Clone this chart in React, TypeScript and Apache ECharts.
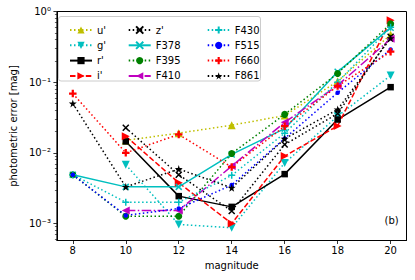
import React, { useEffect, useRef } from "react";
import * as echarts from "echarts";

const magnitudes = [8, 10, 12, 14, 16, 18, 20];

const uBand = [null, 0.015, 0.019, 0.0246, 0.0337, 0.103, 0.47];
const gBand = [null, 0.0068, 0.00097, 0.00087, 0.0072, 0.033, 0.124];
const rBand = [null, 0.0145, 0.00244, 0.00172, 0.005, 0.0296, 0.085];
const iBand = [null, 0.0172, 0.00377, 0.001, 0.009, 0.024, 0.75];
const zBand = [null, 0.0226, 0.0049, 0.0015, 0.0131, 0.036, 0.44];
const f378 = [0.0049, 0.0033, 0.0033, 0.0095, 0.022, 0.14, 0.59];
const f395 = [0.0049, 0.00127, 0.00127, 0.0098, 0.035, 0.133, 0.67];
const f410 = [null, 0.00153, 0.00153, 0.0065, 0.027, 0.09, 0.41];
const f430 = [0.0049, 0.002, 0.002, 0.0048, 0.019, 0.1, 0.6];
const f515 = [0.0049, 0.0013, 0.00163, 0.0035, 0.016, 0.071, 0.29];
const f660 = [0.069, 0.01, 0.0182, 0.0063, 0.0238, 0.088, 0.27];
const f861 = [0.05, 0.0033, 0.0059, 0.0032, 0.0158, 0.041, 0.42];

const xTicks = [8, 10, 12, 14, 16, 18, 20];
const yTicks = [0.001, 0.01, 0.1, 1];

const legendCol1 = ["u'", "g'", "r'", "i'"];
const legendCol2 = ["z'", "F378", "F395", "F410"];
const legendCol3 = ["F430", "F515", "F660", "F861"];

const FONT = "DejaVu Sans";
const X_PATH = "path://M0,0L10,10M10,0L0,10";
const PLUS_PATH = "path://M5,0L5,10M0,5L10,5";
const PFILL_PATH = "path://M3.5,0H6.5V3.5H10V6.5H6.5V10H3.5V6.5H0V3.5H3.5Z";
const STAR_PATH =
  "path://M5,0L6.117,3.463L9.755,3.455L6.807,5.587L7.939,9.045L5,6.9L2.061,9.045L3.193,5.587L0.245,3.455L3.883,3.463Z";

const DOT = [1.5, 2.5];
const DASH = [5.5, 2.4];
const DASHDOT = [9.6, 2.4, 1.5, 2.4];

const supMap: Record<string, string> = { "0": "⁰", "1": "¹", "2": "²", "3": "³", "-": "⁻" };

function mk(
  name: string,
  vals: (number | null)[],
  color: string,
  lineType: any,
  symbol: string,
  size: number,
  rotate = 0,
  stroked = false
) {
  return {
    name,
    type: "line",
    data: magnitudes.map((m, i) => [m, vals[i]]).filter((d) => d[1] !== null),
    symbol,
    symbolSize: size,
    symbolRotate: rotate,
    showAllSymbol: true,
    lineStyle: { color, width: 1.5, type: lineType, cap: "butt" },
    itemStyle: {
      color: stroked ? "rgba(0,0,0,0)" : color,
      borderColor: color,
      borderWidth: stroked ? 1.5 : 0,
    },
    emphasis: { disabled: true },
    z: 2,
  };
}

function minorValues() {
  const out: number[] = [];
  for (let d = -4; d <= -1; d++) {
    for (let k = 2; k <= 9; k++) {
      const v = k * Math.pow(10, d);
      if (v > 0.000575 && v < 1) out.push(v);
    }
  }
  return out;
}

function legendAt(left: number, data: string[]) {
  return {
    data,
    left,
    top: 19,
    orient: "vertical",
    itemWidth: 22,
    itemHeight: 9,
    itemGap: 3.3,
    itemTextGap: 7,
    selectedMode: false,
    textStyle: { fontFamily: FONT, fontSize: 10, color: "#000", lineHeight: 12 },
  };
}

export default function App() {
  const ref = useRef<HTMLDivElement>(null);
  useEffect(() => {
    if (!ref.current) return;
    const chart = echarts.init(ref.current, null, { renderer: "svg" });
    const ymin = 0.000575;
    const option: any = {
      animation: false,
      textStyle: { fontFamily: FONT },
      grid: { left: 54.5, right: 8.5, top: 11.5, bottom: 39.5, show: true, borderColor: "#000", borderWidth: 1, backgroundColor: "transparent" },
      xAxis: {
        type: "value",
        min: 7.4,
        max: 20.6,
        name: "magnitude",
        nameLocation: "middle",
        nameGap: 20,
        nameTextStyle: { fontFamily: FONT, fontSize: 10, color: "#000" },
        axisLine: { lineStyle: { color: "#000", width: 1 } },
        axisTick: { customValues: xTicks, length: 3.5, lineStyle: { color: "#000", width: 0.8 } },
        axisLabel: { customValues: xTicks, margin: 5, fontFamily: FONT, fontSize: 10, color: "#000" },
        splitLine: { show: false },
      },
      yAxis: [
        {
          type: "log",
          logBase: 10,
          min: ymin,
          max: 1,
          name: "photometric error [mag]",
          nameLocation: "middle",
          nameGap: 36,
          nameTextStyle: { fontFamily: FONT, fontSize: 10, color: "#000" },
          axisLine: { show: true, lineStyle: { color: "#000", width: 1 } },
          axisTick: { customValues: yTicks, length: 3.5, lineStyle: { color: "#000", width: 0.8 } },
          axisLabel: {
            customValues: yTicks,
            margin: 6,
            fontFamily: FONT,
            fontSize: 10,
            color: "#000",
            formatter: (v: number) => {
              const e = String(Math.round(Math.log10(v)));
              return "10" + e.split("").map((c) => supMap[c]).join("");
            },
          },
          splitLine: { show: false },
        },
        {
          type: "log",
          logBase: 10,
          min: ymin,
          max: 1,
          position: "left",
          axisLine: { show: false },
          axisTick: { customValues: minorValues(), length: 2, lineStyle: { color: "#000", width: 0.6 } },
          axisLabel: { show: false },
          splitLine: { show: false },
        },
      ],
      legend: [legendAt(64, legendCol1), legendAt(122.7, legendCol2), legendAt(201.7, legendCol3)],
      graphic: [
        {
          type: "rect",
          shape: { x: 58.5, y: 16.5, width: 202, height: 64.5, r: 2.5 },
          style: { fill: "rgba(255,255,255,0.8)", stroke: "#cccccc", lineWidth: 1 },
          z: 3,
        },
        {
          type: "text",
          x: 391.7,
          y: 220.7,
          style: { text: "(b)", fontFamily: FONT, fontSize: 10, fill: "#000", align: "center", verticalAlign: "middle" },
          z: 5,
        },
      ],
      series: [
        mk("u'", uBand, "#bfbf00", DOT, "triangle", 8),
        mk("g'", gBand, "#00bfbf", DOT, "triangle", 8, 180),
        mk("r'", rBand, "#000000", "solid", "rect", 6.5),
        mk("i'", iBand, "#ff0000", DASH, "triangle", 8, -90),
        mk("z'", zBand, "#000000", DOT, X_PATH, 6, 0, true),
        mk("F378", f378, "#00bfbf", "solid", X_PATH, 6, 0, true),
        mk("F395", f395, "#008000", DOT, "circle", 7),
        mk("F410", f410, "#bf00bf", DASHDOT, "triangle", 8, 90),
        mk("F430", f430, "#00bfbf", DOT, PLUS_PATH, 7, 0, true),
        mk("F515", f515, "#0000ff", DOT, "circle", 4.5),
        mk("F660", f660, "#ff0000", DOT, PFILL_PATH, 7.5),
        mk("F861", f861, "#000000", DOT, STAR_PATH, 8),
      ],
    };
    chart.setOption(option);
    return () => chart.dispose();
  }, []);
  return <div ref={ref} style={{ position: "absolute", left: 0, top: 0, width: 415, height: 280 }} />;
}
